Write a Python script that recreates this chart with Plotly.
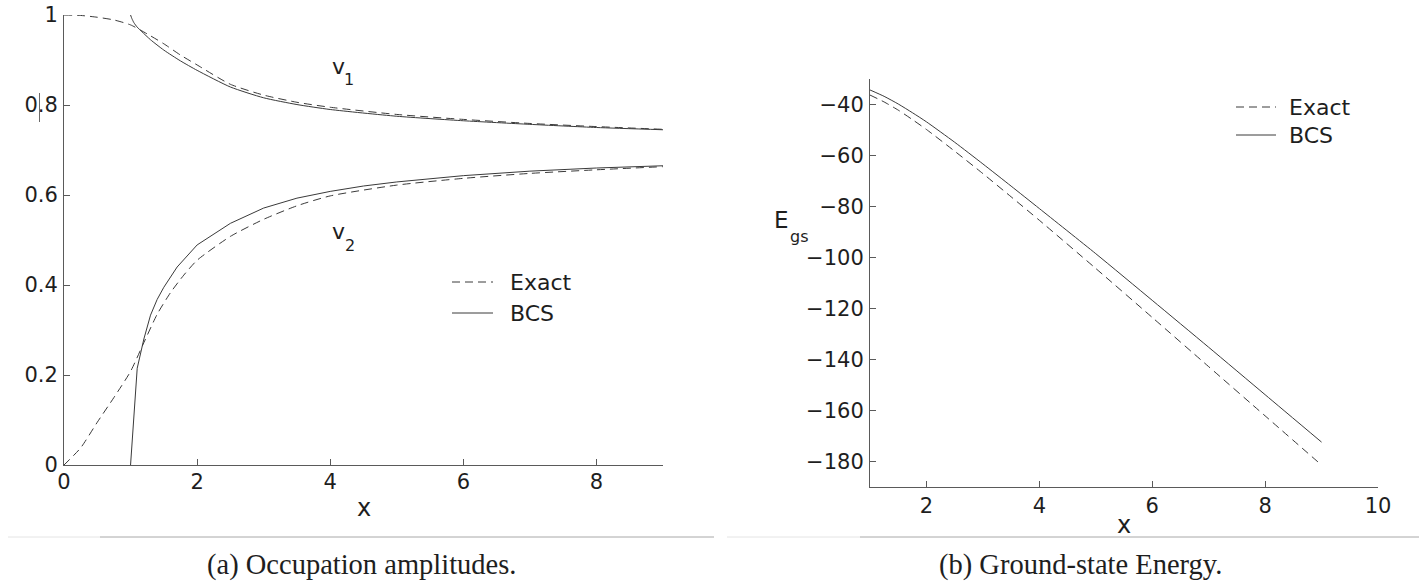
import plotly.graph_objects as go

W, H = 1419, 585

# ---- panel (a): occupation amplitudes ----
x_v1_exact = [0, 0.25, 0.5, 0.75, 1.0, 1.25, 1.5, 1.75, 2.0, 2.5, 3.0, 3.5, 4.0, 5.0, 6.0, 7.0, 8.0, 9.0]
v1_exact = [1.000, 0.999, 0.995, 0.989, 0.978, 0.958, 0.936, 0.911, 0.889, 0.846, 0.822, 0.806,
            0.795, 0.779, 0.768, 0.759, 0.752, 0.746]

x_v1_bcs = [1.0, 1.02, 1.05, 1.1, 1.17, 1.3, 1.5, 1.75, 2.0, 2.5, 3.0, 3.5, 4.0, 5.0, 6.0, 7.0, 8.0, 9.0]
v1_bcs = [1.000, 0.992, 0.983, 0.973, 0.963, 0.945, 0.922, 0.898, 0.877, 0.840, 0.816, 0.801,
          0.790, 0.775, 0.765, 0.757, 0.750, 0.745]

x_v2_exact = [0, 0.25, 0.5, 0.75, 1.0, 1.2, 1.4, 1.6, 1.8, 2.0, 2.5, 3.0, 3.5, 4.0, 5.0, 6.0, 7.0, 8.0, 9.0]
v2_exact = [0.0, 0.038, 0.095, 0.150, 0.208, 0.272, 0.335, 0.383, 0.422, 0.455, 0.508, 0.546,
            0.576, 0.598, 0.622, 0.637, 0.648, 0.656, 0.663]

x_v2_bcs = [1.0, 1.1, 1.2, 1.3, 1.4, 1.5, 1.7, 2.0, 2.5, 3.0, 3.5, 4.0, 4.5, 5.0, 6.0, 7.0, 8.0, 9.0]
v2_bcs = [0.0, 0.215, 0.280, 0.333, 0.368, 0.395, 0.440, 0.489, 0.537, 0.571, 0.593, 0.608,
          0.620, 0.629, 0.643, 0.653, 0.660, 0.665]

a_xticks = [0, 2, 4, 6, 8]
a_yticks = [0, 0.2, 0.4, 0.6, 0.8, 1]
a_yticktext = ["0", "0.2", "0.4", "0.6", "0.8", "1"]

# ---- panel (b): ground-state energy ----
x_energy = [1, 1.25, 1.5, 1.75, 2, 2.5, 3, 3.5, 4, 5, 6, 7, 8, 9]
e_bcs = [-34.3, -36.8, -39.8, -43.2, -46.8, -54.8, -63.3, -72.0, -80.8, -98.5, -116.8, -135.2,
         -153.8, -172.4]
e_exact = [-36.3, -39.0, -42.2, -45.9, -49.8, -58.3, -67.1, -76.2, -85.4, -104.3, -123.5, -142.8,
           -162.1, -181.4]

b_xticks = [2, 4, 6, 8, 10]
b_yticks = [-180, -160, -140, -120, -100, -80, -60, -40]

legend_names = ["Exact", "BCS"]
captions = ["(a) Occupation amplitudes.", "(b) Ground-state Energy."]

LINE = "#3a3a3a"
AXIS = "#5a5a5a"
TEXT = "#1e1e1e"
DASH = "8px,5px"
SANS = "DejaVu Sans, sans-serif"
SERIF = "Liberation Serif, Times New Roman, serif"


def fx(p):
    return p / W


def fy(p):
    return 1 - p / H


fig = go.Figure()

# panel (a) curves
fig.add_trace(go.Scatter(x=x_v1_exact, y=v1_exact, mode="lines", xaxis="x", yaxis="y",
                         line=dict(color=LINE, width=1, dash=DASH, shape="spline", smoothing=0.6)))
fig.add_trace(go.Scatter(x=x_v1_bcs, y=v1_bcs, mode="lines", xaxis="x", yaxis="y",
                         line=dict(color=LINE, width=1, shape="spline", smoothing=0.6)))
fig.add_trace(go.Scatter(x=x_v2_exact, y=v2_exact, mode="lines", xaxis="x", yaxis="y",
                         line=dict(color=LINE, width=1, dash=DASH, shape="spline", smoothing=0.6)))
fig.add_trace(go.Scatter(x=x_v2_bcs, y=v2_bcs, mode="lines", xaxis="x", yaxis="y",
                         line=dict(color=LINE, width=1)))

# panel (b) curves
fig.add_trace(go.Scatter(x=x_energy, y=e_exact, mode="lines", xaxis="x2", yaxis="y2",
                         line=dict(color=LINE, width=1, dash=DASH, shape="spline", smoothing=0.6)))
fig.add_trace(go.Scatter(x=x_energy, y=e_bcs, mode="lines", xaxis="x2", yaxis="y2",
                         line=dict(color=LINE, width=1, shape="spline", smoothing=0.6)))

axis_common = dict(showline=True, linecolor=AXIS, linewidth=1, ticks="inside", ticklen=6,
                   tickcolor=AXIS, tickwidth=1, showgrid=False, zeroline=False,
                   tickfont=dict(family=SANS, size=21, color=TEXT), automargin=False)

fig.update_layout(
    width=W, height=H,
    margin=dict(l=0, r=0, t=0, b=0),
    paper_bgcolor="white", plot_bgcolor="white",
    showlegend=False,
    xaxis=dict(domain=[fx(64), fx(663)], range=[0, 9], anchor="y",
               tickvals=a_xticks, ticklabelstandoff=-2, **axis_common),
    yaxis=dict(domain=[fy(465), fy(15)], range=[0, 1], anchor="x",
               tickvals=a_yticks, ticktext=a_yticktext, ticklabelstandoff=1, **axis_common),
    xaxis2=dict(domain=[fx(870), fx(1378)], range=[1, 10], anchor="y2",
                tickvals=b_xticks, ticklabelstandoff=0, **axis_common),
    yaxis2=dict(domain=[fy(487), fy(79)], range=[-190, -30], anchor="x2",
                tickvals=b_yticks, ticklabelstandoff=1, **axis_common),
)

annotations = []
shapes = []


def text(x, y, s, size, family=SANS, xanchor="center", yanchor="middle"):
    annotations.append(dict(x=fx(x), y=fy(y), xref="paper", yref="paper", text=s,
                            showarrow=False, xanchor=xanchor, yanchor=yanchor,
                            font=dict(family=family, size=size, color=TEXT)))


def seg(x0, y0, x1, y1, color, dash="solid", width=1):
    shapes.append(dict(type="line", xref="paper", yref="paper",
                       x0=fx(x0), y0=fy(y0), x1=fx(x1), y1=fy(y1),
                       line=dict(color=color, width=width, dash=dash)))


# curve labels in panel (a): letter plus lowered index
text(338, 66, "v", 22)
text(349, 80, "1", 16)
text(338, 232, "v", 22)
text(350, 245, "2", 16)

# axis titles
text(364, 508, "x", 24)
text(1124, 525, "x", 24)
text(782, 220, "E", 23)
text(799, 236, "gs", 16)

# legends
for (lx0, lx1, tx, ys) in [(452, 493, 508, (282, 313)), (1236, 1276, 1287, (107, 135))]:
    seg(lx0, ys[0], lx1, ys[0], LINE, dash=DASH)
    seg(lx0, ys[1], lx1, ys[1], LINE)
    text(tx, ys[0], legend_names[0], 22, xanchor="left")
    text(tx, ys[1], legend_names[1], 22, xanchor="left")

# captions and the rules above them
text(361, 565, captions[0], 28.5, family=SERIF)
text(1080, 565, captions[1], 28.5, family=SERIF)
seg(8, 537, 100, 537, "#e4e4e4")
seg(100, 537, 714, 537, "#a8a8a8")
seg(727, 537, 860, 537, "#e4e4e4")
seg(860, 537, 1419, 537, "#a8a8a8")

# small stray mark on the 0.8 label
seg(39.5, 93, 39.5, 122, "#6a6a6a")

fig.update_layout(annotations=annotations, shapes=shapes)
fig.write_html("out.html")
